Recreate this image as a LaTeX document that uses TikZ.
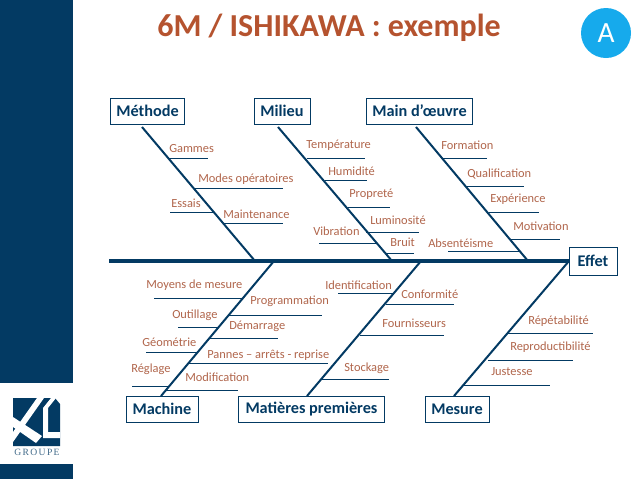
\documentclass[tikz,border=0pt]{standalone}
\usepackage{fontspec}
\setmainfont{Carlito}
\newfontfamily\logofont[LetterSpace=14]{Liberation Serif}
\usepackage{tikz}
\usetikzlibrary{positioning}
\definecolor{xlblue}{HTML}{033A63}
\definecolor{xlbrown}{HTML}{B0654B}
\definecolor{xltitle}{HTML}{B5532F}
\definecolor{xlcyan}{HTML}{16AAEC}
\tikzset{
  causebox/.style={draw=xlblue, line width=0.7pt, text=xlblue, font=\fontsize{12.2}{14}\selectfont\bfseries, inner sep=0pt, anchor=center},
  lbl/.style={text=xlbrown, font=\fontsize{9.3}{11}\selectfont, inner sep=0pt, anchor=west},
  rib/.style={draw=xlblue, line width=0.6pt},
  bone/.style={draw=xlblue, line width=1.5pt},
  spine/.style={draw=xlblue, line width=3.2pt},
  band/.style={fill=xlblue, draw=none}
}
% name, left end, right end, height, label x, label y, text
\newcommand{\rib}[7]{
  \node[lbl] (#1) at (#5,#6) {#7};
  \coordinate (#1L) at (#2,#4);
  \coordinate (#1R) at (#3,#4);
  \draw[rib] (#1L) -- (#1R);
}
\begin{document}
\begin{tikzpicture}[x=0.75pt, y=-0.75pt]
  \useasboundingbox (0,0) rectangle (638,479);
  % bands and logo
  \fill[band] (0,0) rectangle (73,383);
  \fill[band] (0,464) rectangle (73,479);
  \fill[band] (13,398) -- (55,398) -- (60,404) -- (60,446) -- (13,446) -- cycle;
  \fill[white] (37,398) -- (44,398) -- (13,442) -- (13,432) -- cycle;
  \fill[white] (13,417) -- (13,427) -- (36,443) -- (42,436) -- cycle;
  \fill[white] (51,398) -- (56,398) -- (48,408) -- (48,432) -- (60,432) -- (60,438) -- (43,438) -- (43,408) -- cycle;
  \node[text=xlblue!75, font=\fontsize{7.2}{8}\logofont, inner sep=0pt] (groupe) at (37,452) {GROUPE};
  % title
  \node[text=xltitle, font=\fontsize{24}{28}\selectfont\bfseries, inner sep=0pt] (title) at (329,28) {6M / ISHIKAWA : exemple};
  \node[circle, fill=xlcyan, text=white, minimum size=37.5pt, inner sep=0pt, font=\fontsize{22}{24}\selectfont] (badge) at (606,33) {A};
  % boxes
  \node[causebox, minimum width=56pt, minimum height=19.5pt] (methode) at (147.5,111) {Méthode};
  \node[causebox, minimum width=42pt, minimum height=19.5pt] (milieu) at (282,111) {Milieu};
  \node[causebox, minimum width=80pt, minimum height=19.5pt] (main) at (419.5,111) {Main d’œuvre};
  \node[causebox, minimum width=54pt, minimum height=19.5pt] (machine) at (162,409) {Machine};
  \node[causebox, minimum width=109pt, minimum height=19.5pt] (matieres) at (311.5,409) {Matières premières};
  \node[causebox, minimum width=48pt, minimum height=19.5pt] (mesure) at (457,409) {Mesure};
  \node[causebox, minimum width=36pt, minimum height=21pt] (effet) at (593,261) {Effet};
  % spine and bones
  \coordinate (tail) at (109,261);
  \coordinate (methodeTop) at (142,127);
  \coordinate (milieuTop) at (278,127);
  \coordinate (mainTop) at (416,127);
  \coordinate (machineEnd) at (161,396);
  \coordinate (matieresEnd) at (307,396);
  \coordinate (mesureEnd) at (454,396);
  \coordinate (j1) at (255,261);
  \coordinate (j2) at (392,261);
  \coordinate (j3) at (528,261);
  \coordinate (j4) at (274,261);
  \coordinate (j5) at (421,261);
  \coordinate (j6) at (569,261);
  \draw[spine] (tail) -- (effet.west);
  \draw[bone] (methodeTop) -- (j1);
  \draw[bone] (milieuTop) -- (j2);
  \draw[bone] (mainTop) -- (j3);
  \draw[bone] (machineEnd) -- (j4);
  \draw[bone] (matieresEnd) -- (j5);
  \draw[bone] (mesureEnd) -- (j6);
  % methode
  \rib{gammes}{169}{208}{158}{169}{149}{Gammes}
  \rib{modes}{195}{283}{188}{198}{179}{Modes opératoires}
  \rib{essais}{170}{215}{212}{171}{203}{Essais}
  \rib{maintenance}{224}{283}{223}{223}{214}{Maintenance}
  % milieu
  \rib{temperature}{307}{365}{158}{306}{145}{Température}
  \rib{humidite}{325}{367}{180}{328}{171}{Humidité}
  \rib{proprete}{348}{390}{207}{349}{194}{Propreté}
  \rib{vibration}{319}{377}{243}{313}{231}{Vibration}
  \rib{luminosite}{366}{419}{232}{370}{220}{Luminosité}
  \rib{bruit}{385}{414}{253}{390}{242}{Bruit}
  % main d'oeuvre
  \rib{formation}{443}{487}{158}{441}{145}{Formation}
  \rib{qualification}{467}{524}{186}{467}{174}{Qualification}
  \rib{experience}{489}{539}{212}{490}{199}{Expérience}
  \rib{motivation}{511}{560}{239}{513}{226}{Motivation}
  \rib{absenteisme}{448}{520}{251}{428}{243}{Absentéisme}
  % machine
  \rib{moyens}{154}{243}{298}{146}{285}{Moyens de mesure}
  \rib{programmation}{229}{322}{315}{250}{301}{Programmation}
  \rib{outillage}{178}{218}{327}{172}{315}{Outillage}
  \rib{demarrage}{210}{278}{338}{229}{326}{Démarrage}
  \rib{geometrie}{146}{197}{352}{142}{342}{Géométrie}
  \rib{pannes}{187}{328}{363}{207}{355}{Pannes – arrêts - reprise}
  \rib{reglage}{132}{170}{386}{131}{369}{Réglage}
  \rib{modification}{165}{238}{390}{185}{377}{Modification}
  % matieres
  \rib{identification}{338}{394}{293}{325}{285}{Identification}
  \rib{conformite}{386}{454}{304}{401}{294}{Conformité}
  \rib{fournisseurs}{360}{444}{335}{382}{323}{Fournisseurs}
  \rib{stockage}{322}{389}{379}{344}{368}{Stockage}
  % mesure
  \rib{repetabilite}{508}{593}{333}{528}{321}{Répétabilité}
  \rib{reproductibilite}{488}{573}{360}{510}{347}{Reproductibilité}
  \rib{justesse}{463}{550}{385}{491}{372}{Justesse}
\end{tikzpicture}
\end{document}
